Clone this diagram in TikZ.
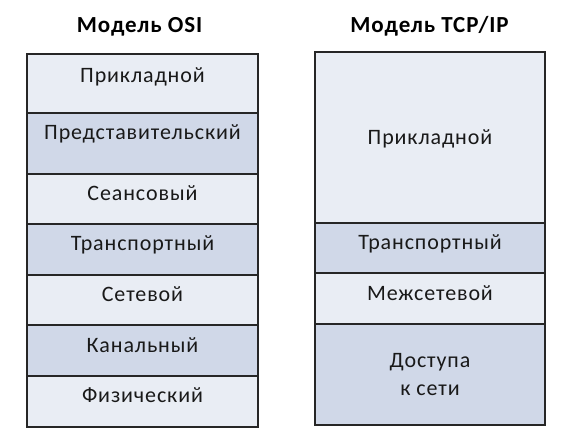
\documentclass[tikz,border=0pt]{standalone}
\usepackage{fontspec}
\setmainfont{Carlito}[LetterSpace=4]
\definecolor{cellA}{HTML}{E9EDF4}
\definecolor{cellB}{HTML}{D0D8E8}
\begin{document}
\begin{tikzpicture}[x=1pt,y=-1pt,
  lbl/.style={font=\fontsize{22}{27}\selectfont, anchor=base, inner sep=0pt, text=black!90},
  ttl/.style={font=\bfseries\fontsize{23}{24}\selectfont, anchor=base, inner sep=0pt},
  lineA/.style={draw=black!85, line width=1.1pt},
  mlbl/.style={font=\fontsize{22}{28}\selectfont, align=center, inner sep=0pt, text=black!90}]
\useasboundingbox (0,0) rectangle (576,440);
% titles
\node[ttl] (t1) at (139.5,32) {Модель OSI};
\node[ttl] (t2) at (429.5,32) {Модель TCP/IP};
% OSI cells
\fill[cellA] (27,54) rectangle (258,113);
\fill[cellB] (27,113) rectangle (258,174);
\fill[cellA] (27,174) rectangle (258,224);
\fill[cellB] (27,224) rectangle (258,275);
\fill[cellA] (27,275) rectangle (258,325);
\fill[cellB] (27,325) rectangle (258,376);
\fill[cellA] (27,376) rectangle (258,427);
\draw[lineA] (27,54) rectangle (258,427);
\foreach \yy in {113,174,224,275,325,376} \draw[lineA] (27,\yy) -- (258,\yy);
\node[lbl] (o7) at (142.5,82) {Прикладной};
\node[lbl] (o6) at (142.5,139) {Представительский};
\node[lbl] (o5) at (142.5,200) {Сеансовый};
\node[lbl] (o4) at (142.5,250) {Транспортный};
\node[lbl] (o3) at (142.5,301) {Сетевой};
\node[lbl] (o2) at (142.5,352) {Канальный};
\node[lbl] (o1) at (142.5,402) {Физический};
% TCP/IP cells
\fill[cellA] (315,52) rectangle (545,223);
\fill[cellB] (315,223) rectangle (545,273);
\fill[cellA] (315,273) rectangle (545,324);
\fill[cellB] (315,324) rectangle (545,425);
\draw[lineA] (315,52) rectangle (545,425);
\foreach \yy in {223,273,324} \draw[lineA] (315,\yy) -- (545,\yy);
\node[mlbl] (p4) at (430,139) {Прикладной};
\node[lbl] (p3) at (430,249) {Транспортный};
\node[lbl] (p2) at (430,300) {Межсетевой};
\node[mlbl] (p1) at (430,375) {Доступа\\к сети};
\end{tikzpicture}
\end{document}
